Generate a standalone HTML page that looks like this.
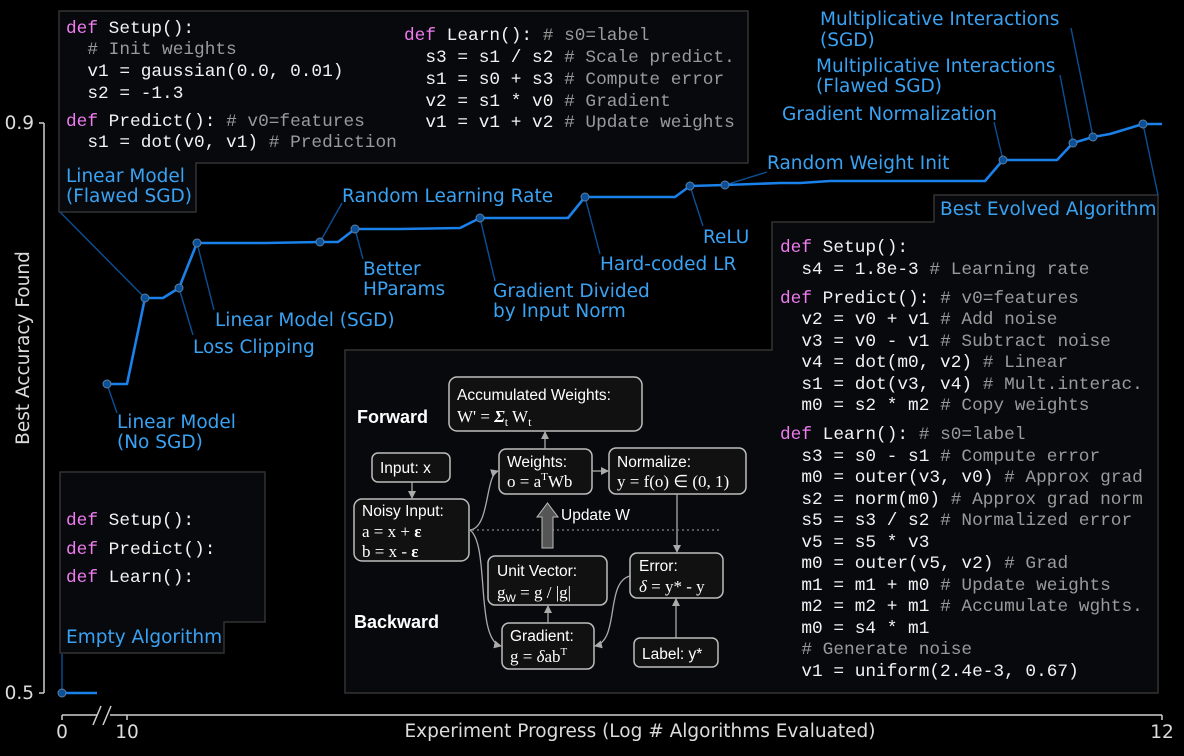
<!DOCTYPE html>
<html><head><meta charset="utf-8"><style>
html,body{margin:0;padding:0;background:#000;}
svg{display:block}
.code{font-family:"Liberation Mono",monospace;font-size:17.8px;fill:#f2f2f2;white-space:pre}
.k{fill:#f07cf0}
.c{fill:#9a9a9a}
.lab{font-family:"DejaVu Sans","Liberation Sans",sans-serif;font-size:18.5px;fill:#3aa2f2}
.ax{font-family:"DejaVu Sans","Liberation Sans",sans-serif;font-size:18.5px;fill:#dcdcdc}
.bt{font-family:"Liberation Sans",sans-serif;font-size:15.5px;fill:#fff}
.m{font-family:"Liberation Serif",serif;font-size:17px;fill:#fff}
.hd{font-family:"Liberation Sans",sans-serif;font-size:18px;font-weight:bold;fill:#fff}
</style></head><body>
<svg width="1184" height="756" viewBox="0 0 1184 756" xmlns="http://www.w3.org/2000/svg">
<defs>
<marker id="ar" markerWidth="8" markerHeight="8" refX="7" refY="4" orient="auto" markerUnits="userSpaceOnUse">
<path d="M0,0 L8,4 L0,8 z" fill="#aaa"/></marker>
</defs>
<rect width="1184" height="756" fill="#000"/>

<g stroke="#cfcfcf" stroke-width="1.5" fill="none">
<line x1="44" y1="123" x2="44" y2="693"/>
<line x1="39" y1="123" x2="44" y2="123"/>
<line x1="39" y1="693" x2="44" y2="693"/>
<line x1="62" y1="715" x2="97" y2="715"/>
<line x1="110" y1="715" x2="1162" y2="715"/>
<line x1="62" y1="715" x2="62" y2="720"/>
<line x1="127" y1="715" x2="127" y2="720"/>
<line x1="1162" y1="715" x2="1162" y2="720"/>
<line x1="93" y1="725" x2="101" y2="706"/>
<line x1="103" y1="725" x2="111" y2="706"/>
</g>
<text class="ax" x="34" y="129" text-anchor="end">0.9</text>
<text class="ax" x="34" y="699" text-anchor="end">0.5</text>
<text class="ax" x="62" y="738" text-anchor="middle">0</text>
<text class="ax" x="127" y="738" text-anchor="middle">10</text>
<text class="ax" x="1162" y="738" text-anchor="middle">12</text>
<text class="ax" x="640" y="737" text-anchor="middle">Experiment Progress (Log # Algorithms Evaluated)</text>
<text class="ax" x="0" y="0" transform="translate(29,348) rotate(-90)" text-anchor="middle">Best Accuracy Found</text>

<path d="M59,11 H748 V163 H196 V212 H59 Z" fill="#07090c" stroke="#333" stroke-width="1.5"/>
<text class="code" x="66" y="33"><tspan class="k">def</tspan> Setup():</text>
<text class="code" x="66" y="54"><tspan class="c">  # Init weights</tspan></text>
<text class="code" x="66" y="76">  v1 = gaussian(0.0, 0.01)</text>
<text class="code" x="66" y="98">  s2 = -1.3</text>
<text class="code" x="66" y="126"><tspan class="k">def</tspan> Predict(): <tspan class="c"># v0=features</tspan></text>
<text class="code" x="66" y="147">  s1 = dot(v0, v1) <tspan class="c"># Prediction</tspan></text>
<text class="code" x="404" y="40"><tspan class="k">def</tspan> Learn(): <tspan class="c"># s0=label</tspan></text>
<text class="code" x="404" y="62">  s3 = s1 / s2 <tspan class="c"># Scale predict.</tspan></text>
<text class="code" x="404" y="84">  s1 = s0 + s3 <tspan class="c"># Compute error</tspan></text>
<text class="code" x="404" y="106">  v2 = s1 * v0 <tspan class="c"># Gradient</tspan></text>
<text class="code" x="404" y="127">  v1 = v1 + v2 <tspan class="c"># Update weights</tspan></text>
<text class="lab" x="66" y="182">Linear Model</text>
<text class="lab" x="66" y="202">(Flawed SGD)</text>

<path d="M60,472 H265 V622 H224 V653 H60 Z" fill="#07090c" stroke="#333" stroke-width="1.5"/>
<text class="code" x="66" y="525"><tspan class="k">def</tspan> Setup():</text>
<text class="code" x="66" y="554"><tspan class="k">def</tspan> Predict():</text>
<text class="code" x="66" y="582"><tspan class="k">def</tspan> Learn():</text>
<text class="lab" x="66" y="643">Empty Algorithm</text>

<path d="M934,195 H1158 V693 H345 V350 H772 V222 H934 Z" fill="#07090c" stroke="#333" stroke-width="1.5"/>
<text class="lab" x="940" y="215">Best Evolved Algorithm</text>
<g>
<text class="code" x="780" y="252"><tspan class="k">def</tspan> Setup():</text>
<text class="code" x="780" y="274">  s4 = 1.8e-3 <tspan class="c"># Learning rate</tspan></text>
<text class="code" x="780" y="303"><tspan class="k">def</tspan> Predict(): <tspan class="c"># v0=features</tspan></text>
<text class="code" x="780" y="324">  v2 = v0 + v1 <tspan class="c"># Add noise</tspan></text>
<text class="code" x="780" y="346">  v3 = v0 - v1 <tspan class="c"># Subtract noise</tspan></text>
<text class="code" x="780" y="367">  v4 = dot(m0, v2) <tspan class="c"># Linear</tspan></text>
<text class="code" x="780" y="389">  s1 = dot(v3, v4) <tspan class="c"># Mult.interac.</tspan></text>
<text class="code" x="780" y="410">  m0 = s2 * m2 <tspan class="c"># Copy weights</tspan></text>
<text class="code" x="780" y="439"><tspan class="k">def</tspan> Learn(): <tspan class="c"># s0=label</tspan></text>
<text class="code" x="780" y="461">  s3 = s0 - s1 <tspan class="c"># Compute error</tspan></text>
<text class="code" x="780" y="482">  m0 = outer(v3, v0) <tspan class="c"># Approx grad</tspan></text>
<text class="code" x="780" y="504">  s2 = norm(m0) <tspan class="c"># Approx grad norm</tspan></text>
<text class="code" x="780" y="525">  s5 = s3 / s2 <tspan class="c"># Normalized error</tspan></text>
<text class="code" x="780" y="547">  v5 = s5 * v3</text>
<text class="code" x="780" y="568">  m0 = outer(v5, v2) <tspan class="c"># Grad</tspan></text>
<text class="code" x="780" y="590">  m1 = m1 + m0 <tspan class="c"># Update weights</tspan></text>
<text class="code" x="780" y="611">  m2 = m2 + m1 <tspan class="c"># Accumulate wghts.</tspan></text>
<text class="code" x="780" y="633">  m0 = s4 * m1</text>
<text class="code" x="780" y="654"><tspan class="c">  # Generate noise</tspan></text>
<text class="code" x="780" y="676">  v1 = uniform(2.4e-3, 0.67)</text>
</g>

<g fill="#111" stroke="#bdbdbd" stroke-width="1.5">
<rect x="449" y="377" width="193" height="54" rx="8"/>
<rect x="372" y="453" width="78" height="29" rx="6"/>
<rect x="354" y="499" width="115" height="62" rx="8"/>
<rect x="499" y="449" width="93" height="45" rx="7"/>
<rect x="609" y="448" width="137" height="46" rx="7"/>
<rect x="488" y="556" width="119" height="49" rx="7"/>
<rect x="630" y="553" width="93" height="45" rx="7"/>
<rect x="502" y="623" width="92" height="46" rx="7"/>
<rect x="634" y="638" width="84" height="29" rx="6"/>
</g>
<g stroke="#aaa" stroke-width="1.3" fill="none">
<line x1="412" y1="482" x2="412" y2="498" marker-end="url(#ar)"/>
<path d="M470,530 C490,528 485,475 498,471" marker-end="url(#ar)"/>
<path d="M470,530 C490,545 475,640 501,646" marker-end="url(#ar)"/>
<line x1="545" y1="449" x2="545" y2="432" marker-end="url(#ar)"/>
<line x1="592" y1="471" x2="608" y2="471" marker-end="url(#ar)"/>
<line x1="677" y1="494" x2="677" y2="552" marker-end="url(#ar)"/>
<path d="M630,576 C605,582 620,640 595,646" marker-end="url(#ar)"/>
<line x1="548" y1="623" x2="548" y2="606" marker-end="url(#ar)"/>
<line x1="676" y1="638" x2="676" y2="599" marker-end="url(#ar)"/>
<line x1="472" y1="530" x2="722" y2="530" stroke-dasharray="2,3" stroke="#888"/>
</g>
<path d="M542,548 H553 V517 H558 L547.5,503 L537,517 H542 Z" fill="#555" stroke="#bbb" stroke-width="1"/>
<text class="bt" x="561" y="520">Update W</text>
<text class="hd" x="357" y="423">Forward</text>
<text class="hd" x="354" y="628">Backward</text>
<text class="bt" x="457" y="400">Accumulated Weights:</text>
<text class="m" x="457" y="422">W' = <tspan font-weight="bold" font-style="italic">Σ</tspan><tspan font-size="12" dy="4">t</tspan><tspan dy="-4"> W</tspan><tspan font-size="12" dy="4">t</tspan></text>
<text class="bt" x="380" y="473">Input: x</text>
<text class="bt" x="362" y="516">Noisy Input:</text>
<text class="m" x="362" y="537">a = x + <tspan font-weight="bold">ε</tspan></text>
<text class="m" x="362" y="557">b = x - <tspan font-weight="bold">ε</tspan></text>
<text class="bt" x="507" y="467">Weights:</text>
<text class="m" x="507" y="487">o = a<tspan font-size="11" dy="-7">T</tspan><tspan dy="7">Wb</tspan></text>
<text class="bt" x="617" y="467">Normalize:</text>
<text class="m" x="617" y="487">y = f(o) ∈ (0, 1)</text>
<text class="bt" x="497" y="576">Unit Vector:</text>
<text class="m" x="497" y="598">g<tspan font-size="11" dy="4" font-family="Liberation Sans">W</tspan><tspan dy="-4"> = g / |g|</tspan></text>
<text class="bt" x="639" y="571">Error:</text>
<text class="m" x="639" y="592"><tspan font-style="italic">δ</tspan> = y* - y</text>
<text class="bt" x="510" y="641">Gradient:</text>
<text class="m" x="510" y="662">g = <tspan font-style="italic">δ</tspan>ab<tspan font-size="11" dy="-7">T</tspan></text>
<text class="bt" x="642" y="659">Label: y*</text>

<g stroke="#0b4f96" stroke-width="1.4" fill="none">
<line x1="60" y1="212" x2="145" y2="298"/>
<line x1="107" y1="384" x2="117" y2="413"/>
<line x1="179" y1="288" x2="193" y2="335"/>
<line x1="197" y1="243" x2="214" y2="310"/>
<line x1="320" y1="242" x2="342" y2="203"/>
<line x1="355" y1="229" x2="363" y2="259"/>
<line x1="480" y1="218" x2="495" y2="281"/>
<line x1="585" y1="197" x2="600" y2="254"/>
<line x1="690" y1="186" x2="703" y2="226"/>
<line x1="725" y1="185" x2="767" y2="172"/>
<line x1="1003" y1="160" x2="994" y2="122"/>
<line x1="1073" y1="143" x2="1060" y2="75"/>
<line x1="1093" y1="137" x2="1071" y2="28"/>
<line x1="1143" y1="124" x2="1158" y2="195"/>
<line x1="62" y1="654" x2="62" y2="693"/>
</g>

<polyline fill="none" stroke="#1a80ea" stroke-width="2.6" stroke-linejoin="round" points="62,693 97,693"/>
<polyline fill="none" stroke="#1a80ea" stroke-width="2.6" stroke-linejoin="round"
points="107,384 127,384 145,298 163,298 179,288 197,243 265,243 320,242 338,242 355,229 400,229 460,228 480,218 568,218 585,197 660,197 675,197 690,186 725,185 780,183 800,183 830,181 985,181 1003,160 1057,160 1073,143 1093,137 1110,134 1143,124 1162,124"/>
<g fill="#0b4f96" stroke="#5a7fa5" stroke-width="1">
<circle cx="62" cy="693" r="4"/><circle cx="107" cy="384" r="4"/><circle cx="145" cy="298" r="4"/>
<circle cx="179" cy="288" r="4"/><circle cx="197" cy="243" r="4"/><circle cx="320" cy="242" r="4"/>
<circle cx="355" cy="229" r="4"/><circle cx="480" cy="218" r="4"/><circle cx="585" cy="197" r="4"/>
<circle cx="690" cy="186" r="4"/><circle cx="725" cy="185" r="4"/><circle cx="1003" cy="160" r="4"/>
<circle cx="1073" cy="143" r="4"/><circle cx="1093" cy="137" r="4"/><circle cx="1143" cy="124" r="4"/>
</g>

<text class="lab" x="117" y="428">Linear Model</text>
<text class="lab" x="117" y="448">(No SGD)</text>
<text class="lab" x="193" y="353">Loss Clipping</text>
<text class="lab" x="215" y="326">Linear Model (SGD)</text>
<text class="lab" x="342" y="202">Random Learning Rate</text>
<text class="lab" x="363" y="275">Better</text>
<text class="lab" x="363" y="295">HParams</text>
<text class="lab" x="493" y="297">Gradient Divided</text>
<text class="lab" x="493" y="317">by Input Norm</text>
<text class="lab" x="600" y="270">Hard-coded LR</text>
<text class="lab" x="703" y="243">ReLU</text>
<text class="lab" x="767" y="169">Random Weight Init</text>
<text class="lab" x="782" y="120">Gradient Normalization</text>
<text class="lab" x="816" y="72">Multiplicative Interactions</text>
<text class="lab" x="816" y="92">(Flawed SGD)</text>
<text class="lab" x="820" y="25">Multiplicative Interactions</text>
<text class="lab" x="820" y="46">(SGD)</text>
</svg>
</body></html>
